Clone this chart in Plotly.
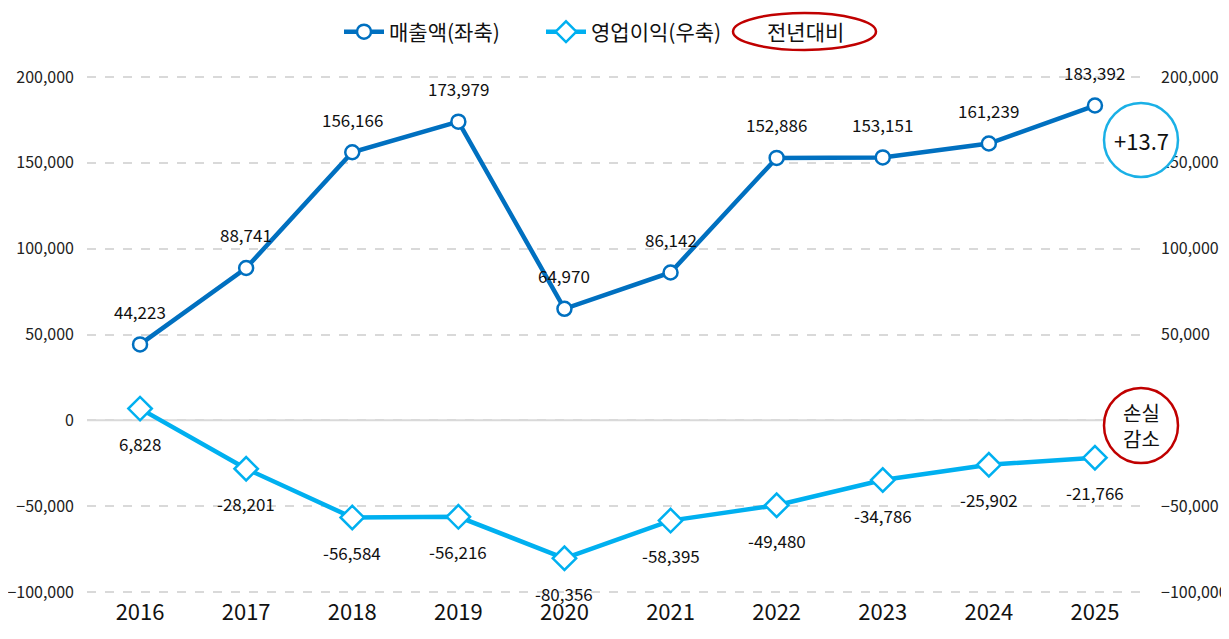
import plotly.graph_objects as go

years = ["2016", "2017", "2018", "2019", "2020", "2021", "2022", "2023", "2024", "2025"]
sales = [44223, 88741, 156166, 173979, 64970, 86142, 152886, 153151, 161239, 183392]
profit = [6828, -28201, -56584, -56216, -80356, -58395, -49480, -34786, -25902, -21766]
sales_name = "매출액(좌축)"
profit_name = "영업이익(우축)"
left_ticks = [-100000, -50000, 0, 50000, 100000, 150000, 200000]
right_ticks = [-100000, -50000, 50000, 100000, 150000, 200000]
yoy_label = "전년대비"
sales_note = "+13.7"
profit_note = "손실<br>감소"

FONT = "Noto Sans CJK KR"
C_SALES = "#0070c0"
C_PROFIT = "#00b0f0"
C_RED = "#c00000"
C_CIRC = "#1ab0e6"

# page has an 8px body margin; work in page pixels and convert
OFF = 8
W, H = 1229 - OFF, 639 - OFF
PAD = 2  # small padding so edge gridlines are drawn
L, R, T, B = 87 - OFF, 1148 - OFF, 77 - OFF - PAD, 592 - OFF + PAD
YMIN, YMAX = -100000 - 2 * 300000 / 515 * PAD / 2 * 2, 200000 + 2 * 300000 / 515 * PAD / 2 * 2
# YMIN/YMAX extended by PAD pixels worth of units
YMIN = -100000 - 300000 / 515 * PAD
YMAX = 200000 + 300000 / 515 * PAD

def px(x):
    return (x - OFF - L) / (R - L)
def py(y):
    return 1 - (y - OFF - T) / (B - T)

fig = go.Figure()
fig.add_trace(go.Scatter(
    x=years, y=sales, name=sales_name, mode="lines+markers",
    line=dict(color=C_SALES, width=4.5),
    marker=dict(symbol="circle", size=14, color="white", line=dict(color=C_SALES, width=2.5)),
    yaxis="y",
))
fig.add_trace(go.Scatter(
    x=years, y=profit, name=profit_name, mode="lines+markers",
    line=dict(color=C_PROFIT, width=4.5),
    marker=dict(symbol="diamond", size=18, color="white", line=dict(color=C_PROFIT, width=2.5)),
    yaxis="y2",
))

annotations = []
for i, v in enumerate(sales):
    annotations.append(dict(x=i, y=v, xref="x", yref="y", text=f"{v:,}", showarrow=False,
                            xanchor="center", yanchor="middle",
                            yshift=33, font=dict(family=FONT, size=17, color="#111")))
for i, v in enumerate(profit):
    annotations.append(dict(x=i, y=v, xref="x", yref="y2", text=f"{v:,}", showarrow=False,
                            xanchor="center", yanchor="middle",
                            yshift=-35, font=dict(family=FONT, size=17, color="#111")))

annotations.append(dict(x=px(805), y=py(31), xref="paper", yref="paper", text=yoy_label,
                        xanchor="center", yanchor="middle",
                        showarrow=False, font=dict(family=FONT, size=21, color="#111")))
annotations.append(dict(x=px(1141), y=py(140), xref="paper", yref="paper", text=sales_note,
                        xanchor="center", yanchor="middle",
                        showarrow=False, font=dict(family=FONT, size=22, color="#111")))
annotations.append(dict(x=px(1141), y=py(425), xref="paper", yref="paper", text=profit_note,
                        xanchor="center", yanchor="middle",
                        showarrow=False, font=dict(family=FONT, size=20, color="#111")))

shapes = [
    dict(type="circle", xref="paper", yref="paper", x0=px(733), x1=px(876), y0=py(50), y1=py(13),
         line=dict(color=C_RED, width=2.5), fillcolor="rgba(0,0,0,0)"),
    dict(type="circle", xref="paper", yref="paper", x0=px(1104), x1=px(1178), y0=py(177), y1=py(103),
         line=dict(color=C_CIRC, width=2.5), fillcolor="white", layer="above"),
    dict(type="circle", xref="paper", yref="paper", x0=px(1104), x1=px(1178), y0=py(463), y1=py(388),
         line=dict(color=C_RED, width=2.5), fillcolor="white", layer="above"),
    dict(type="line", xref="paper", yref="y", x0=0, x1=1, y0=0, y1=0,
         line=dict(color="#d9d9d9", width=2), layer="below"),
]

axis_common = dict(range=[YMIN, YMAX], showline=False, zeroline=False,
                   tickformat=",", tickfont=dict(family=FONT, size=16, color="#222"),
                   ticklabelstandoff=12, automargin=False)

fig.update_layout(
    width=W, height=H,
    margin=dict(l=L, r=W - R, t=T, b=H - B, autoexpand=False),
    paper_bgcolor="white", plot_bgcolor="white",
    font=dict(family=FONT, color="#111"),
    xaxis=dict(type="category", showgrid=False, showline=False, zeroline=False,
               tickfont=dict(family=FONT, size=22, color="#111"), range=[-0.5, 9.5],
               ticklabelstandoff=3, automargin=False),
    yaxis=dict(**axis_common, tickvals=left_ticks, showgrid=True, gridcolor="#d9d9d9",
               griddash="dash", gridwidth=1.5),
    yaxis2=dict(**axis_common, tickvals=right_ticks, overlaying="y", side="right", showgrid=False),
    legend=dict(orientation="h", x=px(339), xanchor="left", y=py(32), yanchor="middle",
                font=dict(family=FONT, size=21, color="#111"), itemwidth=40,
                entrywidth=147, entrywidthmode="pixels",
                bgcolor="rgba(0,0,0,0)"),
    annotations=annotations,
    shapes=shapes,
)

fig.write_html("out.html")
